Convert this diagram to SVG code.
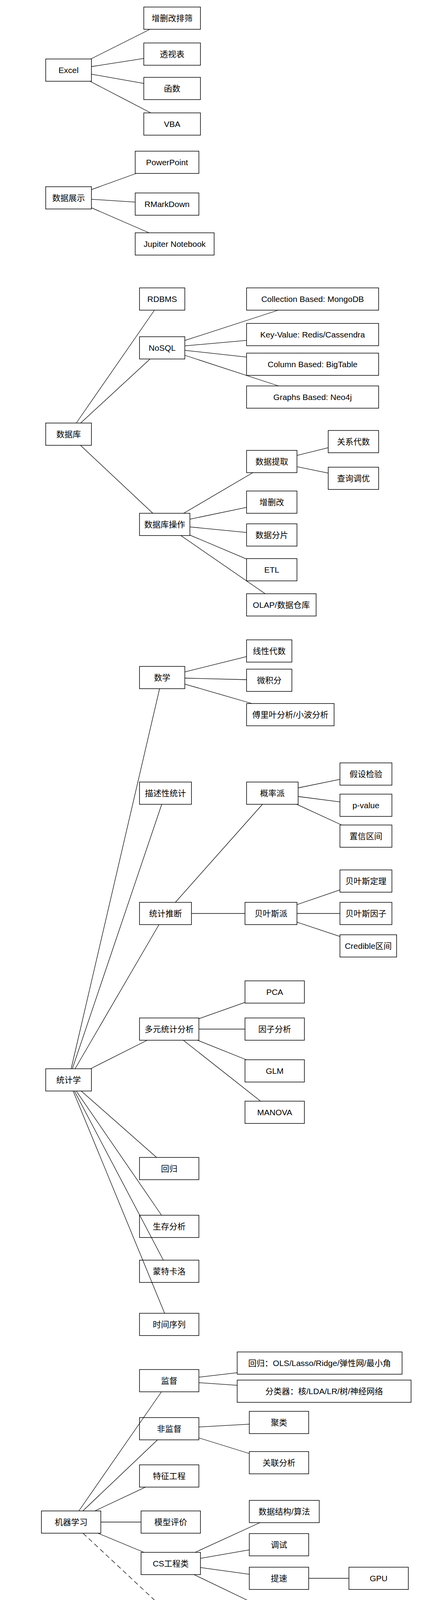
<svg xmlns="http://www.w3.org/2000/svg" width="1080" height="7587" viewBox="0 0 1080 7587">
<style>
.n rect{fill:#fff;stroke:#000;stroke-width:1.5}
.n text{font-family:"Liberation Sans","Noto Sans CJK SC",sans-serif;font-size:21px;text-anchor:middle;fill:#000}
#connectors line{stroke:#000;stroke-width:1.3;fill:none}
#connectors .dash{stroke-dasharray:12 8}
</style>
<rect x="0" y="0" width="1080" height="7587" fill="#fff"/>
<g id="nodes">
<g id="n-excel" class="n"><rect x="117" y="151" width="117" height="57"/><text x="175.5" y="187">Excel</text></g>
<g id="n-zsgpx" class="n"><rect x="368" y="18" width="145" height="57"/><text x="440.5" y="54">增删改排筛</text></g>
<g id="n-tsb" class="n"><rect x="368" y="110" width="145" height="57"/><text x="440.5" y="146">透视表</text></g>
<g id="n-hs" class="n"><rect x="368" y="198" width="145" height="57"/><text x="440.5" y="234">函数</text></g>
<g id="n-vba" class="n"><rect x="368" y="289" width="145" height="57"/><text x="440.5" y="325">VBA</text></g>
<g id="n-sjzs" class="n"><rect x="117" y="478" width="117" height="57"/><text x="175.5" y="514">数据展示</text></g>
<g id="n-ppt" class="n"><rect x="346" y="387" width="163" height="57"/><text x="427.5" y="423">PowerPoint</text></g>
<g id="n-rmd" class="n"><rect x="346" y="494" width="163" height="57"/><text x="427.5" y="530">RMarkDown</text></g>
<g id="n-jup" class="n"><rect x="346" y="596" width="202" height="57"/><text x="447" y="632">Jupiter Notebook</text></g>
<g id="n-sjk" class="n"><rect x="117" y="1083" width="117" height="57"/><text x="175.5" y="1119">数据库</text></g>
<g id="n-rdbms" class="n"><rect x="357" y="737" width="116" height="57"/><text x="415" y="773">RDBMS</text></g>
<g id="n-nosql" class="n"><rect x="357" y="862" width="116" height="57"/><text x="415" y="898">NoSQL</text></g>
<g id="n-coll" class="n"><rect x="631" y="737" width="338" height="57"/><text x="800" y="773">Collection Based: MongoDB</text></g>
<g id="n-kv" class="n"><rect x="631" y="828" width="338" height="57"/><text x="800" y="864">Key-Value: Redis/Cassendra</text></g>
<g id="n-col" class="n"><rect x="631" y="904" width="338" height="57"/><text x="800" y="940">Column Based: BigTable</text></g>
<g id="n-graph" class="n"><rect x="631" y="988" width="338" height="57"/><text x="800" y="1024">Graphs Based: Neo4j</text></g>
<g id="n-sjkcz" class="n"><rect x="357" y="1314" width="129" height="57"/><text x="421.5" y="1350">数据库操作</text></g>
<g id="n-sjtq" class="n"><rect x="631" y="1153" width="129" height="57"/><text x="695.5" y="1189">数据提取</text></g>
<g id="n-gxds" class="n"><rect x="840" y="1102" width="129" height="57"/><text x="904.5" y="1138">关系代数</text></g>
<g id="n-cxdy" class="n"><rect x="840" y="1196" width="129" height="57"/><text x="904.5" y="1232">查询调优</text></g>
<g id="n-zsg" class="n"><rect x="631" y="1257" width="129" height="57"/><text x="695.5" y="1293">增删改</text></g>
<g id="n-sjfp" class="n"><rect x="631" y="1341" width="129" height="57"/><text x="695.5" y="1377">数据分片</text></g>
<g id="n-etl" class="n"><rect x="631" y="1430" width="129" height="57"/><text x="695.5" y="1466">ETL</text></g>
<g id="n-olap" class="n"><rect x="631" y="1520" width="178" height="57"/><text x="720" y="1556">OLAP/数据仓库</text></g>
<g id="n-sx" class="n"><rect x="357" y="1706" width="116" height="57"/><text x="415" y="1742">数学</text></g>
<g id="n-xxds" class="n"><rect x="631" y="1638" width="116" height="57"/><text x="689" y="1674">线性代数</text></g>
<g id="n-wjf" class="n"><rect x="631" y="1713" width="116" height="57"/><text x="689" y="1749">微积分</text></g>
<g id="n-flye" class="n"><rect x="631" y="1801" width="224" height="57"/><text x="743" y="1837">傅里叶分析/小波分析</text></g>
<g id="n-msxtj" class="n"><rect x="357" y="2002" width="133" height="57"/><text x="423.5" y="2038">描述性统计</text></g>
<g id="n-glp" class="n"><rect x="631" y="2002" width="132" height="57"/><text x="697" y="2038">概率派</text></g>
<g id="n-jsjy" class="n"><rect x="870" y="1953" width="133" height="57"/><text x="936.5" y="1989">假设检验</text></g>
<g id="n-pv" class="n"><rect x="870" y="2033" width="133" height="57"/><text x="936.5" y="2069">p-value</text></g>
<g id="n-zxqj" class="n"><rect x="870" y="2112" width="133" height="57"/><text x="936.5" y="2148">置信区间</text></g>
<g id="n-tjtd" class="n"><rect x="357" y="2310" width="133" height="57"/><text x="423.5" y="2346">统计推断</text></g>
<g id="n-byp" class="n"><rect x="627" y="2310" width="133" height="57"/><text x="693.5" y="2346">贝叶斯派</text></g>
<g id="n-bysdl" class="n"><rect x="870" y="2227" width="133" height="57"/><text x="936.5" y="2263">贝叶斯定理</text></g>
<g id="n-bysyz" class="n"><rect x="870" y="2310" width="133" height="57"/><text x="936.5" y="2346">贝叶斯因子</text></g>
<g id="n-cred" class="n"><rect x="870" y="2393" width="145" height="57"/><text x="942.5" y="2429">Credible区间</text></g>
<g id="n-pca" class="n"><rect x="627" y="2511" width="152" height="57"/><text x="703" y="2547">PCA</text></g>
<g id="n-dytj" class="n"><rect x="357" y="2606" width="152" height="57"/><text x="433" y="2642">多元统计分析</text></g>
<g id="n-yzfx" class="n"><rect x="627" y="2606" width="152" height="57"/><text x="703" y="2642">因子分析</text></g>
<g id="n-glm" class="n"><rect x="627" y="2713" width="152" height="57"/><text x="703" y="2749">GLM</text></g>
<g id="n-manova" class="n"><rect x="627" y="2819" width="152" height="57"/><text x="703" y="2855">MANOVA</text></g>
<g id="n-tjx" class="n"><rect x="117" y="2736" width="117" height="57"/><text x="175.5" y="2772">统计学</text></g>
<g id="n-hg" class="n"><rect x="357" y="2963" width="152" height="57"/><text x="433" y="2999">回归</text></g>
<g id="n-scfx" class="n"><rect x="357" y="3111" width="152" height="57"/><text x="433" y="3147">生存分析</text></g>
<g id="n-mtkl" class="n"><rect x="357" y="3226" width="152" height="57"/><text x="433" y="3262">蒙特卡洛</text></g>
<g id="n-sjxl" class="n"><rect x="357" y="3362" width="152" height="57"/><text x="433" y="3398">时间序列</text></g>
<g id="n-hgols" class="n"><rect x="607" y="3461" width="422" height="57"/><text x="818" y="3497">回归：OLS/Lasso/Ridge/弹性网/最小角</text></g>
<g id="n-jd" class="n"><rect x="357" y="3506" width="152" height="57"/><text x="433" y="3542">监督</text></g>
<g id="n-flq" class="n"><rect x="607" y="3533" width="445" height="57"/><text x="829.5" y="3569">分类器：核/LDA/LR/树/神经网络</text></g>
<g id="n-fjd" class="n"><rect x="357" y="3629" width="152" height="57"/><text x="433" y="3665">非监督</text></g>
<g id="n-jl" class="n"><rect x="638" y="3613" width="152" height="57"/><text x="714" y="3649">聚类</text></g>
<g id="n-glfx" class="n"><rect x="638" y="3716" width="152" height="57"/><text x="714" y="3752">关联分析</text></g>
<g id="n-tzgc" class="n"><rect x="357" y="3750" width="152" height="57"/><text x="433" y="3786">特征工程</text></g>
<g id="n-jqxx" class="n"><rect x="106" y="3868" width="152" height="57"/><text x="182" y="3904">机器学习</text></g>
<g id="n-mxpj" class="n"><rect x="361" y="3868" width="152" height="57"/><text x="437" y="3904">模型评价</text></g>
<g id="n-sjjg" class="n"><rect x="638" y="3841" width="179" height="57"/><text x="727.5" y="3877">数据结构/算法</text></g>
<g id="n-ts" class="n"><rect x="638" y="3926" width="152" height="57"/><text x="714" y="3962">调试</text></g>
<g id="n-cs" class="n"><rect x="361" y="3974" width="152" height="57"/><text x="437" y="4010">CS工程类</text></g>
<g id="n-tisu" class="n"><rect x="638" y="4012" width="152" height="57"/><text x="714" y="4048">提速</text></g>
<g id="n-gpu" class="n"><rect x="893" y="4012" width="152" height="57"/><text x="969" y="4048">GPU</text></g>
<g id="n-kwh" class="n"><rect x="638" y="4107" width="152" height="57"/><text x="714" y="4143">可维护</text></g>
<g id="n-git" class="n"><rect x="893" y="4107" width="152" height="57"/><text x="969" y="4143">git</text></g>
<g id="n-rjgc" class="n"><rect x="893" y="4195" width="152" height="57"/><text x="969" y="4231">软件工程</text></g>
<g id="n-sdxx" class="n"><rect x="357" y="4126" width="201" height="57"/><text x="457.5" y="4162">深度学习/增强学习</text></g>
<g id="n-ggplot" class="n"><rect x="672" y="4218" width="152" height="57"/><text x="748" y="4254">ggplot2(R)</text></g>
<g id="n-txyf" class="n"><rect x="357" y="4297" width="175" height="87"/><text x="444.5" y="4335">图形语法/非交互</text><text x="444.5" y="4365">可视化理论</text></g>
<g id="n-seaborn" class="n"><rect x="672" y="4304" width="194" height="57"/><text x="769" y="4340">Seaborn(Python)</text></g>
<g id="n-mpl" class="n"><rect x="672" y="4392" width="228" height="57"/><text x="786" y="4428">Matplotlib(Python)</text></g>
<g id="n-gladfly" class="n"><rect x="672" y="4476" width="228" height="57"/><text x="786" y="4512">Gladfly(Julia)</text></g>
<g id="n-ggvis" class="n"><rect x="672" y="4556" width="152" height="57"/><text x="748" y="4592">ggvis(R)</text></g>
<g id="n-bokeh" class="n"><rect x="672" y="4636" width="228" height="57"/><text x="786" y="4672">Bookeh(Python)</text></g>
<g id="n-sjksh" class="n"><rect x="117" y="4654" width="152" height="57"/><text x="193" y="4690">数据可视化</text></g>
<g id="n-jhs" class="n"><rect x="357" y="4734" width="152" height="57"/><text x="433" y="4770">交互式理论</text></g>
<g id="n-plotly" class="n"><rect x="672" y="4734" width="228" height="57"/><text x="786" y="4770">Plot.ly</text></g>
<g id="n-d3" class="n"><rect x="672" y="4822" width="228" height="57"/><text x="786" y="4858">D3.js</text></g>
<g id="n-gis" class="n"><rect x="357" y="4863" width="152" height="57"/><text x="433" y="4899">GIS</text></g>
<g id="n-echarts" class="n"><rect x="672" y="4909" width="228" height="57"/><text x="786" y="4945">eCharts.js</text></g>
<g id="n-tableau" class="n"><rect x="672" y="4996" width="228" height="57"/><text x="786" y="5032">Tableau</text></g>
<g id="n-wbwj" class="n"><rect x="117" y="5198" width="152" height="57"/><text x="193" y="5234">文本挖掘</text></g>
<g id="n-sjwl" class="n"><rect x="117" y="5426" width="152" height="57"/><text x="193" y="5462">社交网络</text></g>
<g id="n-fbs" class="n"><rect x="357" y="5551" width="152" height="57"/><text x="433" y="5587">分布式理论</text></g>
<g id="n-bf" class="n"><rect x="357" y="5710" width="152" height="57"/><text x="433" y="5746">并发</text></g>
<g id="n-dsj" class="n"><rect x="117" y="5776" width="152" height="57"/><text x="193" y="5812">大数据</text></g>
<g id="n-hdfs" class="n"><rect x="577" y="5787" width="202" height="57"/><text x="678" y="5823">HDFS</text></g>
<g id="n-mr" class="n"><rect x="577" y="5878" width="202" height="57"/><text x="678" y="5914">Map Reduce</text></g>
<g id="n-hadoop" class="n"><rect x="357" y="5961" width="152" height="57"/><text x="433" y="5997">Hadoop系ll</text></g>
<g id="n-yarn" class="n"><rect x="577" y="5961" width="205" height="57"/><text x="679.5" y="5997">YARN</text></g>
<g id="n-hive" class="n"><rect x="821" y="5996" width="205" height="57"/><text x="923.5" y="6032">数据仓库: Hive</text></g>
<g id="n-hbase" class="n"><rect x="577" y="6061" width="205" height="57"/><text x="679.5" y="6097">数据库: HBase</text></g>
<g id="n-pig" class="n"><rect x="821" y="6113" width="205" height="57"/><text x="923.5" y="6149">Pig</text></g>
<g id="n-storm" class="n"><rect x="577" y="6182" width="205" height="57"/><text x="679.5" y="6218">Storm/Spark</text></g>
<g id="n-r" class="n"><rect x="577" y="6307" width="152" height="57"/><text x="653" y="6343">R</text></g>
<g id="n-julia" class="n"><rect x="806" y="6345" width="152" height="57"/><text x="882" y="6381">Julia</text></g>
<g id="n-python" class="n"><rect x="577" y="6387" width="152" height="57"/><text x="653" y="6423">Python</text></g>
<g id="n-cxyy" class="n"><rect x="357" y="6452" width="152" height="57"/><text x="433" y="6488">程序语言</text></g>
<g id="n-matlab" class="n"><rect x="577" y="6467" width="152" height="57"/><text x="653" y="6503">Matlab/SAS</text></g>
<g id="n-java" class="n"><rect x="577" y="6550" width="152" height="57"/><text x="653" y="6586">Java</text></g>
<g id="n-scala" class="n"><rect x="577" y="6645" width="152" height="57"/><text x="653" y="6681">Scala</text></g>
<g id="n-wlxy" class="n"><rect x="577" y="6752" width="152" height="57"/><text x="653" y="6788">网络协议</text></g>
<g id="n-fiddler" class="n"><rect x="577" y="6843" width="152" height="57"/><text x="653" y="6879">Fiddler</text></g>
<g id="n-requests" class="n"><rect x="806" y="6877" width="152" height="57"/><text x="882" y="6913">Requests</text></g>
<g id="n-qt" class="n"><rect x="117" y="6934" width="152" height="57"/><text x="193" y="6970">其他</text></g>
<g id="n-pc" class="n"><rect x="357" y="6934" width="152" height="57"/><text x="433" y="6970">爬虫</text></g>
<g id="n-pckj" class="n"><rect x="577" y="6934" width="152" height="57"/><text x="653" y="6970">爬虫框架类库</text></g>
<g id="n-scrapy" class="n"><rect x="806" y="6963" width="152" height="57"/><text x="882" y="6999">Scrapy</text></g>
<g id="n-html" class="n"><rect x="577" y="7052" width="152" height="57"/><text x="653" y="7088">HTML Parser</text></g>
<g id="n-bs" class="n"><rect x="802" y="7052" width="167" height="57"/><text x="885.5" y="7088">Beautiful Soup</text></g>
<g id="n-yzm" class="n"><rect x="577" y="7135" width="152" height="57"/><text x="653" y="7171">验证码识别</text></g>
<g id="n-rzfx" class="n"><rect x="357" y="7302" width="152" height="57"/><text x="433" y="7338">日志分析</text></g>
<g id="n-elk" class="n"><rect x="577" y="7302" width="152" height="57"/><text x="653" y="7338">Elk</text></g>
<g id="n-ywzs" class="n"><rect x="357" y="7485" width="152" height="57"/><text x="433" y="7521">运维知识</text></g>
<g id="n-linux" class="n"><rect x="577" y="7485" width="152" height="57"/><text x="653" y="7521">Linux/Bash</text></g>
</g>
<g id="connectors">
<line x1="232.3" y1="151" x2="383.7" y2="75"/>
<line x1="234" y1="170.5" x2="368" y2="149.7"/>
<line x1="234" y1="189.9" x2="368" y2="213.6"/>
<line x1="230.2" y1="208" x2="385.8" y2="289"/>
<line x1="234" y1="485.4" x2="348.6" y2="444"/>
<line x1="234" y1="510.2" x2="346" y2="517.3"/>
<line x1="234" y1="531.9" x2="381.4" y2="596"/>
<line x1="195.2" y1="1083" x2="395.3" y2="794"/>
<line x1="206.4" y1="1083" x2="384.1" y2="919"/>
<line x1="205.9" y1="1140" x2="391.1" y2="1314"/>
<line x1="473" y1="871.7" x2="712.2" y2="794"/>
<line x1="473" y1="885.4" x2="631" y2="871.4"/>
<line x1="473" y1="896.8" x2="631" y2="914.1"/>
<line x1="473" y1="909.5" x2="713" y2="988"/>
<line x1="470" y1="1314" x2="647" y2="1210"/>
<line x1="486" y1="1329.1" x2="631" y2="1298.9"/>
<line x1="486" y1="1348.9" x2="631" y2="1363.1"/>
<line x1="486" y1="1369.8" x2="631" y2="1431.2"/>
<line x1="462.8" y1="1371" x2="678.7" y2="1520"/>
<line x1="760" y1="1165.8" x2="840" y2="1146.2"/>
<line x1="760" y1="1194.8" x2="840" y2="1211.2"/>
<line x1="182.1" y1="2736" x2="408.4" y2="1763"/>
<line x1="185.1" y1="2736" x2="413.9" y2="2059"/>
<line x1="192.1" y1="2736" x2="406.9" y2="2367"/>
<line x1="231.9" y1="2736" x2="376.6" y2="2663"/>
<line x1="207.8" y1="2793" x2="400.7" y2="2963"/>
<line x1="195.1" y1="2793" x2="413.4" y2="3111"/>
<line x1="190.5" y1="2793" x2="418" y2="3226"/>
<line x1="187.2" y1="2793" x2="421.3" y2="3362"/>
<line x1="473" y1="1720.1" x2="631" y2="1680.9"/>
<line x1="473" y1="1736" x2="631" y2="1740"/>
<line x1="473" y1="1751.3" x2="644.6" y2="1801"/>
<line x1="448.8" y1="2310" x2="671.7" y2="2059"/>
<line x1="490" y1="2338.5" x2="627" y2="2338.5"/>
<line x1="763" y1="2017" x2="870" y2="1995.1"/>
<line x1="763" y1="2039" x2="870" y2="2052.9"/>
<line x1="759.1" y1="2059" x2="874.4" y2="2112"/>
<line x1="760" y1="2315.8" x2="870" y2="2278.2"/>
<line x1="760" y1="2338.5" x2="870" y2="2338.5"/>
<line x1="760" y1="2360.7" x2="870" y2="2397.3"/>
<line x1="509" y1="2607.8" x2="627" y2="2566.2"/>
<line x1="509" y1="2634.5" x2="627" y2="2634.5"/>
<line x1="505.5" y1="2663" x2="630.5" y2="2713"/>
<line x1="469.1" y1="2663" x2="666.9" y2="2819"/>
<line x1="201.8" y1="3868" x2="413.2" y2="3563"/>
<line x1="211.9" y1="3868" x2="403.1" y2="3686"/>
<line x1="242.6" y1="3868" x2="372.4" y2="3807"/>
<line x1="258" y1="3896.5" x2="361" y2="3896.5"/>
<line x1="250.6" y1="3925" x2="368.4" y2="3974"/>
<line class="dash" x1="212.4" y1="3925" x2="427.1" y2="4126"/>
<line x1="509" y1="3525.6" x2="607" y2="3514.2"/>
<line x1="509" y1="3539.7" x2="607" y2="3546.3"/>
<line x1="509" y1="3653.2" x2="638" y2="3645.8"/>
<line x1="509" y1="3681" x2="638" y2="3721"/>
<line x1="499.3" y1="3974" x2="665.2" y2="3898"/>
<line x1="513" y1="3989.3" x2="638" y2="3967.7"/>
<line x1="513" y1="4012.9" x2="638" y2="4030.1"/>
<line x1="496.4" y1="4031" x2="654.6" y2="4107"/>
<line x1="790" y1="4040.5" x2="893" y2="4040.5"/>
<line x1="790" y1="4135.5" x2="893" y2="4135.5"/>
<line x1="790" y1="4161.7" x2="893" y2="4197.3"/>
<line x1="214" y1="4654" x2="412.5" y2="4384"/>
<line x1="269" y1="4707.8" x2="357" y2="4737.2"/>
<line x1="225.7" y1="4711" x2="400.3" y2="4863"/>
<line x1="532" y1="4313.4" x2="672" y2="4270"/>
<line x1="532" y1="4338.3" x2="672" y2="4334.9"/>
<line x1="532" y1="4361" x2="672" y2="4393.8"/>
<line x1="532" y1="4382.5" x2="726.6" y2="4476"/>
<line x1="483.4" y1="4734" x2="697.6" y2="4613"/>
<line x1="509" y1="4741.4" x2="683.3" y2="4693"/>
<line x1="509" y1="4762.5" x2="672" y2="4762.5"/>
<line x1="509" y1="4781.4" x2="672" y2="4822.1"/>
<line x1="490.5" y1="4791" x2="728.5" y2="4909"/>
<line x1="471.4" y1="4791" x2="747.6" y2="4996"/>
<line x1="223.4" y1="5776" x2="402.6" y2="5608"/>
<line x1="269" y1="5783.6" x2="357" y2="5759.4"/>
<line x1="230" y1="5833" x2="396" y2="5961"/>
<line x1="473.1" y1="5961" x2="637.9" y2="5844"/>
<line x1="509" y1="5963.8" x2="593.9" y2="5935"/>
<line x1="509" y1="5989.5" x2="577" y2="5989.5"/>
<line x1="503.3" y1="6018" x2="609.2" y2="6061"/>
<line x1="464.8" y1="6018" x2="647.7" y2="6182"/>
<line x1="782" y1="6062.2" x2="821" y2="6051.8"/>
<line x1="782" y1="6111.3" x2="821" y2="6119.7"/>
<line x1="207.2" y1="6934" x2="418.8" y2="6509"/>
<line x1="269" y1="6962.5" x2="357" y2="6962.5"/>
<line x1="211.6" y1="6991" x2="414.4" y2="7302"/>
<line x1="205.4" y1="6991" x2="420.6" y2="7485"/>
<line x1="476.2" y1="6452" x2="609.8" y2="6364"/>
<line x1="509" y1="6458" x2="577" y2="6438"/>
<line x1="509" y1="6485.7" x2="577" y2="6490.3"/>
<line x1="497" y1="6509" x2="589" y2="6550"/>
<line x1="465.5" y1="6509" x2="620.5" y2="6645"/>
<line x1="729" y1="6348.1" x2="806" y2="6360.9"/>
<line x1="729" y1="6401.6" x2="806" y2="6387.4"/>
<line x1="467.5" y1="6934" x2="618.5" y2="6809"/>
<line x1="501.9" y1="6934" x2="584.1" y2="6900"/>
<line x1="509" y1="6962.5" x2="577" y2="6962.5"/>
<line x1="486.1" y1="6991" x2="599.9" y2="7052"/>
<line x1="464.2" y1="6991" x2="621.8" y2="7135"/>
<line x1="729" y1="6943.6" x2="806" y2="6924.4"/>
<line x1="729" y1="6972.1" x2="806" y2="6981.9"/>
<line x1="709.1" y1="6991" x2="829.4" y2="7052"/>
<line x1="509" y1="7330.5" x2="577" y2="7330.5"/>
<line x1="509" y1="7513.5" x2="577" y2="7513.5"/>
</g>
</svg>
